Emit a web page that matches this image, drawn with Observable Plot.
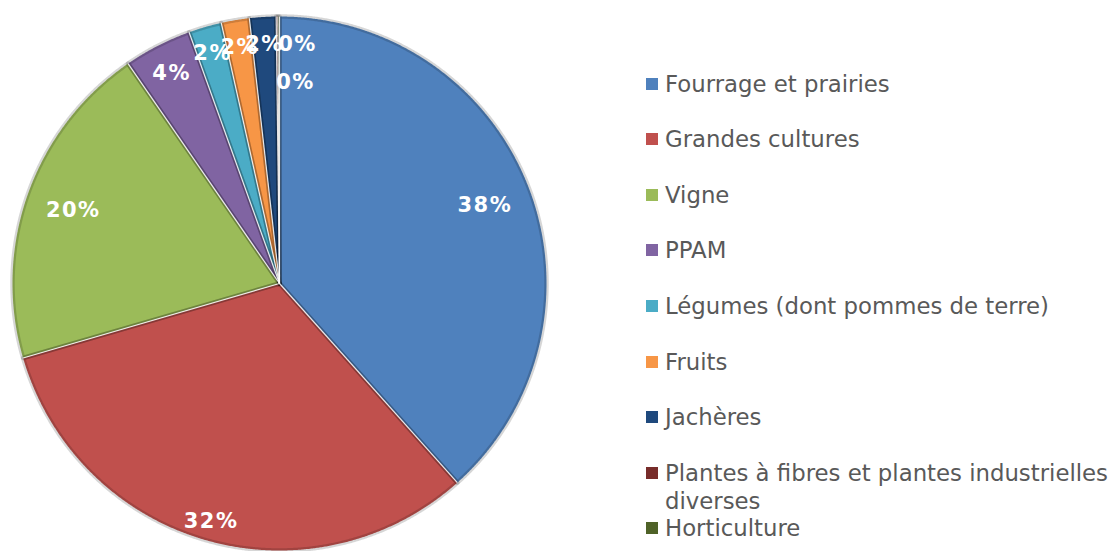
<!DOCTYPE html>
<html><head><meta charset="utf-8">
<script src="https://cdn.jsdelivr.net/npm/d3@7"></script>
<script src="https://cdn.jsdelivr.net/npm/@observablehq/plot@0.6"></script>
<style>
body{margin:0;background:#fff;}
#wrap{position:relative;width:1117px;height:551px;overflow:hidden;font-family:"DejaVu Sans",Verdana,sans-serif;}
#wrap svg{position:absolute;left:0;top:0;}
.item{position:absolute;left:665px;width:452px;font-size:22.8px;line-height:28px;color:#595959;}
.sw{position:absolute;left:-19px;top:8px;width:12px;height:12px;}
</style></head><body><div id="wrap"></div>
<script>
const categories = [
  "Fourrage et prairies",
  "Grandes cultures",
  "Vigne",
  "PPAM",
  "Légumes (dont pommes de terre)",
  "Fruits",
  "Jachères",
  "Plantes à fibres et plantes industrielles diverses",
  "Horticulture"
];
const shares = [38.4, 32.1, 19.9, 4.1, 2.0, 1.7, 1.6, 0.1, 0.1];
const colors = ["#4F81BD","#C0504D","#9BBB59","#8064A2","#4BACC6","#F79646","#1F497D","#772C2A","#4F6228"];

// layout
const W = 1117, H = 551, cx = 279, cy = 283, R = 267;
const total = d3.sum(shares);
const arcs = d3.pie().sort(null).value(d => d)(shares);

// slice polygons (unit circle, angle 0 at top, clockwise)
const slicePts = [];
arcs.forEach((a, i) => {
  const name = categories[i];
  slicePts.push({name, x: 0, y: 0});
  const n = Math.max(2, Math.ceil((a.endAngle - a.startAngle) / (Math.PI / 720)));
  for (let k = 0; k <= n; k++) {
    const t = a.startAngle + (a.endAngle - a.startAngle) * k / n;
    slicePts.push({name, x: Math.sin(t), y: Math.cos(t)});
  }
  slicePts.push({name, x: 0, y: 0});
});

// separators between slices
const seps = arcs.map(a => ({x2: Math.sin(a.startAngle), y2: Math.cos(a.startAngle)}));

// label placement (best-fit style)
const labelRadius = {"Fourrage et prairies": 0.823, "Grandes cultures": 0.928, "Vigne": 0.82, "PPAM": 0.884};
const labels = arcs.map((a, i) => {
  const name = categories[i];
  let ang = (a.startAngle + a.endAngle) / 2;
  let r = labelRadius[name] ?? 0.897;
  if (i === categories.length - 2) { ang = 4.3 * Math.PI / 180; r = 0.90; }
  if (i === categories.length - 1) { ang = 4.55 * Math.PI / 180; r = 0.755; }
  return {name, x: r * Math.sin(ang), y: r * Math.cos(ang), text: Math.round(shares[i] / total * 100) + "%"};
});

const chart = Plot.plot({
  width: W, height: H,
  marginLeft: cx - R, marginRight: W - cx - R, marginTop: cy - R, marginBottom: H - cy - R,
  x: {domain: [-1, 1], axis: null},
  y: {domain: [-1, 1], axis: null},
  color: {domain: categories, range: colors},
  style: {background: "transparent", overflow: "visible"},
  marks: [
    Plot.line(slicePts, {x: "x", y: "y", z: "name", fill: "name", stroke: "none", curve: "linear"}),
    Plot.line(slicePts, {x: "x", y: "y", z: "name", stroke: "#000", strokeOpacity: 0.16, strokeWidth: 4.5, strokeLinejoin: "round", curve: "linear"}),
    Plot.link(seps, {x1: 0, y1: 0, x2: "x2", y2: "y2", stroke: "#fff", strokeWidth: 1.2, strokeOpacity: 0.85}),
    Plot.text(labels, {x: "x", y: "y", text: "text", fill: "#fff", fontSize: 21, fontWeight: "bold",
      fontFamily: "DejaVu Sans, Verdana, sans-serif"})
  ]
});

const wrap = document.getElementById("wrap");
wrap.appendChild(chart);
chart.querySelectorAll("text").forEach(t => t.style.letterSpacing = "1.5px");

const color = chart.scale("color");
categories.forEach((c, i) => {
  const div = document.createElement("div");
  div.className = "item";
  div.style.top = (69.5 + i * 55.6) + "px";
  const sw = document.createElement("span");
  sw.className = "sw";
  sw.style.background = color.apply(c);
  div.appendChild(sw);
  div.appendChild(document.createTextNode(c));
  wrap.appendChild(div);
});
</script>
</body></html>
